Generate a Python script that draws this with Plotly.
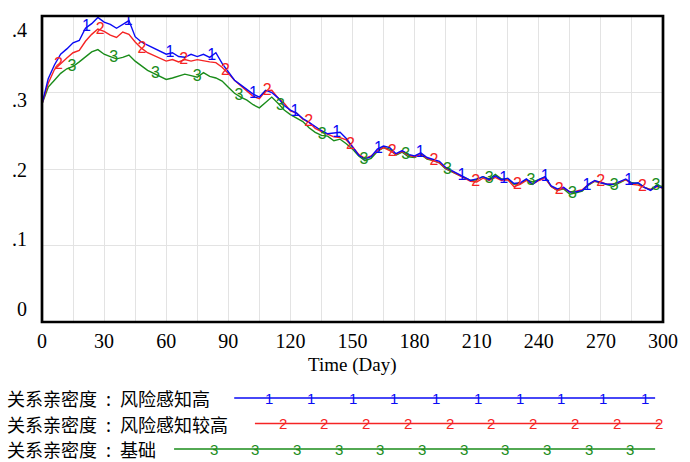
import numpy as np
import plotly.graph_objects as go

# Simulation output, sampled every 3 days
days = list(range(0, 301, 3))

high = [
    0.285, 0.318, 0.336, 0.350, 0.357, 0.365, 0.368, 0.384, 0.390, 0.398,
    0.392, 0.389, 0.384, 0.389, 0.394, 0.373, 0.366, 0.362, 0.358, 0.353,
    0.350, 0.352, 0.347, 0.346, 0.350, 0.347, 0.350, 0.346, 0.352, 0.338,
    0.327, 0.316, 0.310, 0.304, 0.298, 0.294, 0.303, 0.300, 0.293, 0.283,
    0.277, 0.273, 0.266, 0.261, 0.255, 0.250, 0.246, 0.247, 0.248, 0.240,
    0.229, 0.218, 0.213, 0.216, 0.226, 0.230, 0.228, 0.220, 0.224, 0.219,
    0.217, 0.221, 0.215, 0.213, 0.210, 0.202, 0.198, 0.194, 0.189, 0.185,
    0.187, 0.190, 0.186, 0.191, 0.186, 0.188, 0.181, 0.182, 0.187, 0.180,
    0.186, 0.190, 0.178, 0.174, 0.176, 0.170, 0.170, 0.172, 0.180, 0.185,
    0.182, 0.180, 0.180, 0.183, 0.187, 0.181, 0.182, 0.176, 0.172, 0.178,
    0.175,
]

higher = [
    0.285, 0.312, 0.330, 0.338, 0.345, 0.352, 0.355, 0.367, 0.376, 0.383,
    0.380, 0.375, 0.372, 0.379, 0.376, 0.366, 0.358, 0.352, 0.348, 0.344,
    0.341, 0.343, 0.340, 0.343, 0.341, 0.343, 0.341, 0.340, 0.339, 0.333,
    0.325, 0.316, 0.309, 0.302, 0.295, 0.292, 0.302, 0.303, 0.293, 0.286,
    0.276, 0.273, 0.265, 0.261, 0.253, 0.249, 0.246, 0.242, 0.241, 0.238,
    0.229, 0.219, 0.214, 0.217, 0.224, 0.228, 0.224, 0.219, 0.223, 0.218,
    0.216, 0.219, 0.214, 0.211, 0.208, 0.201, 0.197, 0.193, 0.188, 0.184,
    0.183, 0.188, 0.185, 0.189, 0.185, 0.186, 0.177, 0.180, 0.185, 0.180,
    0.185, 0.188, 0.177, 0.172, 0.175, 0.170, 0.171, 0.173, 0.180, 0.184,
    0.183, 0.180, 0.180, 0.183, 0.186, 0.180, 0.179, 0.176, 0.173, 0.177,
    0.175,
]

base = [
    0.285, 0.307, 0.316, 0.325, 0.331, 0.334, 0.340, 0.346, 0.353, 0.356,
    0.350, 0.347, 0.344, 0.346, 0.349, 0.341, 0.335, 0.329, 0.325, 0.321,
    0.317, 0.319, 0.322, 0.324, 0.322, 0.320, 0.326, 0.321, 0.319, 0.315,
    0.307, 0.299, 0.294, 0.290, 0.284, 0.280, 0.287, 0.294, 0.286, 0.277,
    0.271, 0.267, 0.262, 0.254, 0.248, 0.244, 0.243, 0.237, 0.239, 0.233,
    0.226, 0.217, 0.211, 0.214, 0.223, 0.228, 0.226, 0.218, 0.222, 0.216,
    0.215, 0.219, 0.213, 0.211, 0.208, 0.200, 0.196, 0.193, 0.189, 0.185,
    0.186, 0.190, 0.187, 0.193, 0.187, 0.187, 0.180, 0.181, 0.186, 0.183,
    0.186, 0.189, 0.177, 0.172, 0.174, 0.167, 0.169, 0.171, 0.179, 0.184,
    0.182, 0.179, 0.177, 0.182, 0.186, 0.182, 0.181, 0.176, 0.173, 0.179,
    0.177,
]

names = ["关系亲密度\u2002:\u2002风险感知高",
         "关系亲密度\u2002:\u2002风险感知较高",
         "关系亲密度\u2002:\u2002基础"]
tags = ["1", "2", "3"]
x_ticks = list(range(0, 301, 30))
y_ticks = [0, 0.1, 0.2, 0.3, 0.4]
y_tick_text = ["0", ".1", ".2", ".3", ".4"]

# Styling
colors = ["#0a0af5", "#f52424", "#1a8c1a"]
tag_start = [21.5, 8.0, 14.5]
tag_step = 20.15
serif = "Liberation Serif, Times New Roman, serif"
sans = "Liberation Sans, Arial, sans-serif"
cjk = "Noto Sans CJK SC, sans-serif"

W, H = 690, 462
L, R, T, B = 41, 19, 16, 140
pw, ph = W - L - R, H - T - B


def fx(px):
    return (px - L) / pw


def fy(py):
    return (H - B - py) / ph


series = [high, higher, base]
fig = go.Figure()

# Curves (base first so the high-risk curve sits on top)
for i in [2, 1, 0]:
    fig.add_trace(go.Scatter(
        x=days, y=series[i], mode="lines",
        line=dict(color=colors[i], width=1.4),
        hoverinfo="skip", showlegend=False,
    ))

# Numbered run markers along each curve
d = np.array(days, dtype=float)
for i in [2, 1, 0]:
    mx = np.arange(tag_start[i], 300.5, tag_step)
    my = np.interp(mx, d, np.array(series[i]))
    fig.add_trace(go.Scatter(
        x=mx, y=my, mode="text", text=[tags[i]] * len(mx),
        textposition="middle center",
        textfont=dict(family=sans, size=16, color=colors[i]),
        hoverinfo="skip", showlegend=False,
    ))

# Carrier for the left-hand value labels
fig.add_trace(go.Scatter(
    x=days, y=high, yaxis="y2", mode="lines", opacity=0,
    line=dict(width=0), hoverinfo="skip", showlegend=False,
))

fig.update_layout(
    width=W, height=H,
    margin=dict(l=L, r=R, t=T, b=B),
    paper_bgcolor="white", plot_bgcolor="white",
    showlegend=False,
    xaxis=dict(
        range=[0, 300], tickvals=x_ticks, ticktext=[str(v) for v in x_ticks],
        showgrid=True, gridcolor="#e3e3e3", gridwidth=1,
        minor=dict(dtick=15, tick0=0, showgrid=True, gridcolor="#e3e3e3", gridwidth=1),
        zeroline=False, showline=False, ticks="",
        tickfont=dict(family=serif, size=20, color="black"),
        ticklabelstandoff=5,
    ),
    yaxis=dict(
        range=[0, 0.4], tickvals=[0.1, 0.2, 0.3], showticklabels=False,
        showgrid=True, gridcolor="#e3e3e3", gridwidth=1,
        zeroline=False, showline=False, ticks="",
    ),
    yaxis2=dict(
        range=[-0.019, 0.4205], overlaying="y", side="left",
        tickvals=y_ticks, ticktext=y_tick_text,
        showgrid=False, zeroline=False, showline=False, ticks="",
        tickfont=dict(family=serif, size=20, color="black"),
        ticklabelstandoff=14,
    ),
)

shapes = [dict(type="rect", xref="paper", yref="paper", x0=0, x1=1, y0=0, y1=1,
               line=dict(color="black", width=2.7), layer="above")]
annotations = [dict(text="Time (Day)", xref="paper", yref="paper", x=0.5, y=fy(365),
                    xanchor="center", yanchor="middle", showarrow=False,
                    font=dict(family=serif, size=19, color="black"))]

# Legend rows: label, line, and repeated run numbers
rows_y = [398, 423.5, 449]
line_x = [(236, 663), (257, 668), (175, 663)]
digit_x = [
    [271.7 + 42.3 * k for k in range(10)],
    [285.0 + 42.4 * k for k in range(10)],
    [215.0 + 42.3 * k for k in range(11)],
]
for i in range(3):
    annotations.append(dict(
        text=names[i], xref="paper", yref="paper", x=fx(3), y=fy(rows_y[i]),
        xanchor="left", yanchor="middle", showarrow=False,
        font=dict(family=cjk, size=18, color="black"),
    ))
    shapes.append(dict(
        type="line", xref="paper", yref="paper",
        x0=fx(line_x[i][0]), x1=fx(line_x[i][1]), y0=fy(rows_y[i]), y1=fy(rows_y[i]),
        line=dict(color=colors[i], width=1.6),
    ))
    for px in digit_x[i]:
        annotations.append(dict(
            text=tags[i], xref="paper", yref="paper", x=fx(px), y=fy(rows_y[i]),
            xanchor="center", yanchor="middle", showarrow=False,
            font=dict(family=sans, size=15, color=colors[i]),
        ))

fig.update_layout(shapes=shapes, annotations=annotations)
fig.write_html("out.html")
